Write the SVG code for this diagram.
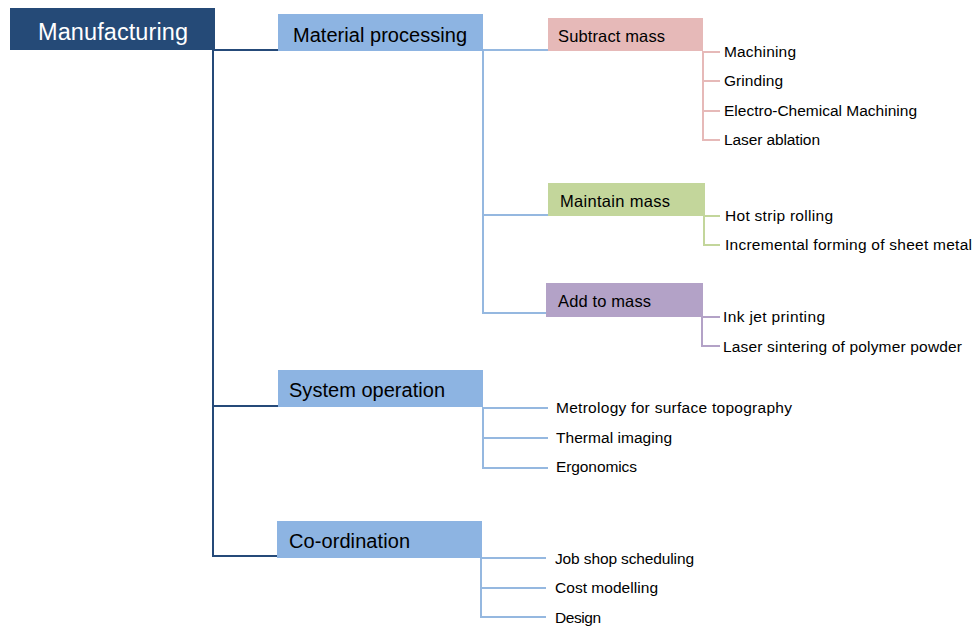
<svg xmlns="http://www.w3.org/2000/svg" width="973" height="628" viewBox="0 0 973 628">
<style>
text{font-family:"Liberation Sans",Arial,sans-serif;fill:#000}
.l1{font-size:20px}
.l2{font-size:16.5px}
.leaf{font-size:15.5px}
.c{fill:none;stroke-width:2}
.dk{stroke:#254a79}
.bl{stroke:#95b8e0}
.rd{stroke:#e6b9b8}
.gr{stroke:#c3d69b}
.pu{stroke:#b3a2c7}
</style>
<rect width="973" height="628" fill="#fff"/>
<g id="connectors">
<path class="c dk" d="M213 49V557M213 50H278M213 406H278M213 556H278"/>
<path class="c bl" d="M483 51V314M483 50H548M483 215H548M483 313H546"/>
<path class="c rd" d="M703 51V141M703 52H720M703 81H720M703 111H720M703 140H720"/>
<path class="c gr" d="M704 216V246M704 216H720M704 245H720"/>
<path class="c pu" d="M702 317V347M702 317H720M702 346H720"/>
<path class="c bl" d="M483 407V469M483 408H548M483 438H548M483 468H548"/>
<path class="c bl" d="M481 558V618M481 558H546M481 588H546M481 617H546"/>
</g>
<g id="manufacturing"><rect x="10" y="8" width="205" height="42" fill="#254a77"/><text x="113" y="40" text-anchor="middle" font-size="23.5" style="fill:#fff" textLength="150">Manufacturing</text></g>
<g id="material-processing"><rect x="278" y="14" width="205" height="37" fill="#8db4e2"/><text class="l1" x="293" y="42" textLength="174">Material processing</text></g>
<g id="subtract-mass"><rect x="548" y="18" width="155" height="33" fill="#e6b9b8"/><text class="l2" x="558" y="42" textLength="107">Subtract mass</text></g>
<g id="maintain-mass"><rect x="548" y="183" width="157" height="33" fill="#c3d69b"/><text class="l2" x="560" y="207" textLength="110">Maintain mass</text></g>
<g id="add-to-mass"><rect x="546" y="283" width="157" height="34" fill="#b3a2c7"/><text class="l2" x="558" y="307" textLength="93">Add to mass</text></g>
<g id="system-operation"><rect x="278" y="370" width="205" height="37" fill="#8db4e2"/><text class="l1" x="289" y="397" textLength="156">System operation</text></g>
<g id="co-ordination"><rect x="277" y="521" width="205" height="37" fill="#8db4e2"/><text class="l1" x="289" y="548" textLength="121">Co-ordination</text></g>
<g id="machining"><text class="leaf" x="724" y="57" textLength="72">Machining</text></g>
<g id="grinding"><text class="leaf" x="724" y="86" textLength="59">Grinding</text></g>
<g id="ecm"><text class="leaf" x="724" y="116" textLength="193">Electro-Chemical Machining</text></g>
<g id="laser-ablation"><text class="leaf" x="724" y="145" textLength="96">Laser ablation</text></g>
<g id="hot-strip"><text class="leaf" x="725" y="221" textLength="108">Hot strip rolling</text></g>
<g id="incremental"><text class="leaf" x="725" y="250" textLength="247">Incremental forming of sheet metal</text></g>
<g id="ink-jet"><text class="leaf" x="723" y="322" textLength="102">Ink jet printing</text></g>
<g id="laser-sintering"><text class="leaf" x="723" y="352" textLength="239">Laser sintering of polymer powder</text></g>
<g id="metrology"><text class="leaf" x="556" y="413" textLength="236">Metrology for surface topography</text></g>
<g id="thermal"><text class="leaf" x="556" y="443" textLength="116">Thermal imaging</text></g>
<g id="ergonomics"><text class="leaf" x="556" y="472" textLength="81">Ergonomics</text></g>
<g id="job-shop"><text class="leaf" x="555" y="564" textLength="139">Job shop scheduling</text></g>
<g id="cost"><text class="leaf" x="555" y="593" textLength="103">Cost modelling</text></g>
<g id="design"><text class="leaf" x="555" y="623" textLength="46">Design</text></g>
</svg>
